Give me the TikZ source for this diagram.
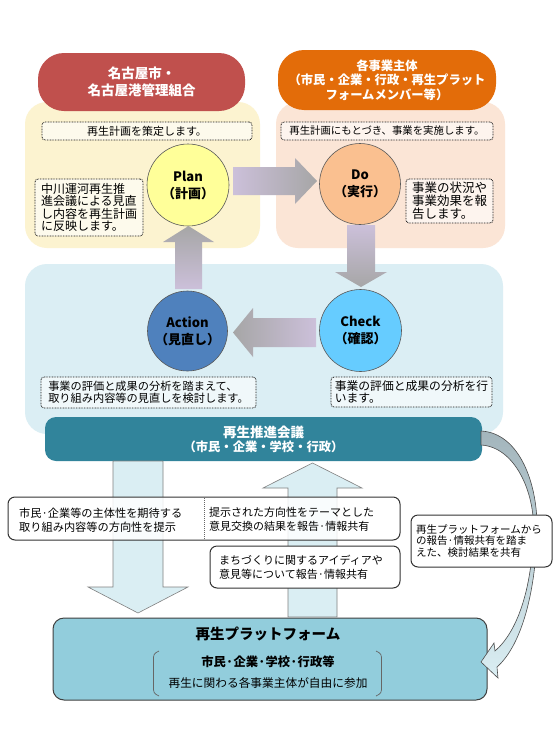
\documentclass[tikz,border=0pt]{standalone}
\usepackage{fontspec}
\setmainfont{Noto Sans CJK JP}
\usetikzlibrary{shapes.geometric}
\definecolor{hdrred}{HTML}{C0504D}
\definecolor{hdrorg}{HTML}{E36C09}
\definecolor{pylw}{HTML}{FCF3D0}
\definecolor{ppnk}{HTML}{FBE5D6}
\definecolor{pblu}{HTML}{DBEEF4}
\definecolor{cplan}{HTML}{FFFF99}
\definecolor{cdo}{HTML}{FAC090}
\definecolor{cact}{HTML}{4F81BD}
\definecolor{cchk}{HTML}{66CCFF}
\definecolor{council}{HTML}{31849B}
\definecolor{platf}{HTML}{92CDDC}
\definecolor{lav}{HTML}{CCC0DA}
\definecolor{gry}{HTML}{A6A6A6}
\definecolor{arrblue}{HTML}{DAEEF3}
\definecolor{cgray}{HTML}{A3B5BC}
\tikzset{
  panel/.style={rectangle, rounded corners=22pt, inner sep=0pt, outer sep=0pt},
  hdr/.style={rectangle, rounded corners=26pt, inner sep=0pt, text=white, align=center},
  dbox/.style={rectangle, draw=black!90, line width=0.8pt, dash pattern=on 0.8pt off 0.8pt,
     rounded corners=3pt, fill=white, fill opacity=0.6, text opacity=1, inner sep=0pt, align=left},
  pdca/.style={circle, draw=black!65, line width=0.6pt, inner sep=0pt, align=center,
     font=\fontsize{13}{17}\selectfont\bfseries},
  sbox/.style={rectangle, draw=black!80, line width=1pt, rounded corners=7pt, fill=white, inner sep=0pt},
  bigarr/.style={fill=arrblue, draw=black!50, line width=0.6pt},
  txt/.style={inner sep=0pt, align=left},
}
\begin{document}
\begin{tikzpicture}[x=1pt,y=-1pt]
\useasboundingbox (0,0) rectangle (556,739);
\fill[white] (0,0) rectangle (556,739);

% panels
\node[panel, fill=pylw, minimum width=235, minimum height=146] (yp) at (142.5,175) {};
\node[panel, fill=ppnk, minimum width=229, minimum height=146] (pp) at (390.5,175) {};
\node[panel, fill=pblu, minimum width=478, minimum height=170] (bp) at (264,349) {};

% headers
\node[hdr, fill=hdrred, minimum width=207, minimum height=58,
  font=\fontsize{13.5}{16.5}\selectfont\bfseries] (hr) at (141.5,82) {名古屋市・\\名古屋港管理組合};
\node[hdr, fill=hdrorg, minimum width=218, minimum height=60,
  font=\fontsize{12.3}{14.5}\selectfont\bfseries] (ho) at (387,80) {各事業主体\\（市民・企業・行政・再生プラット\\フォームメンバー等）};

% dotted boxes
\node[dbox, minimum width=210, minimum height=18, font=\fontsize{11}{12}\selectfont] (d1) at (147,131) {再生計画を策定します。};
\node[dbox, minimum width=212, minimum height=18, font=\fontsize{10.4}{12}\selectfont] (d2) at (387,131) {再生計画にもとづき、事業を実施します。};
\node[dbox, minimum width=108, minimum height=57, font=\fontsize{12}{12.5}\selectfont] (d3) at (89,207.5) {中川運河再生推\\進会議による見直\\し内容を再生計画\\に反映します。};
\node[dbox, minimum width=87, minimum height=44, font=\fontsize{12.5}{13}\selectfont] (d4) at (449.5,201) {事業の状況や\\事業効果を報\\告します。};
\node[dbox, minimum width=215, minimum height=31, font=\fontsize{11.2}{12}\selectfont] (d5) at (148.5,392.5) {事業の評価と成果の分析を踏まえて、\\取り組み内容等の見直しを検討します。};
\node[dbox, minimum width=161, minimum height=30, font=\fontsize{11.8}{12}\selectfont] (d6) at (411.5,392) {事業の評価と成果の分析を行\\います。\hspace*{6.5em}};

% PDCA circles
\node[pdca, fill=cplan, minimum size=82] (plan) at (188,185) {Plan\\（計画）};
\node[pdca, fill=cdo, minimum size=81] (do) at (360,184) {Do\\（実行）};
\node[pdca, fill=cact, minimum size=80] (act) at (187.5,331) {Action\\（見直し）};
\node[pdca, fill=cchk, minimum size=82] (chk) at (360.5,330.5) {Check\\（確認）};

% block arrows between PDCA
\path[left color=lav, right color=gry] (233,167) -- (295,167) -- (295,158) -- (317,181)
   -- (295,204) -- (295,195) -- (233,195) -- cycle;
\path[top color=lav, bottom color=gry] (347,225) -- (375,225) -- (375,272) -- (387,272)
   -- (361,287) -- (335,272) -- (347,272) -- cycle;
\path[top color=gry, bottom color=lav] (175,289) -- (175,242) -- (163,242) -- (188.5,226)
   -- (214,242) -- (202,242) -- (202,289) -- cycle;
\path[left color=gry, right color=lav] (316,318) -- (253,318) -- (253,308) -- (233,332.5)
   -- (253,357) -- (253,347) -- (316,347) -- cycle;

% council
\node[rectangle, rounded corners=11pt, fill=council, minimum width=437, minimum height=44,
  inner sep=0pt] (cn) at (263.5,439) {};
\node[txt, text=white, font=\fontsize{13.5}{15}\selectfont\bfseries] (cnt1) at (263.5,432) {再生推進会議};
\node[txt, text=white, font=\fontsize{12.3}{15}\selectfont\bfseries] (cnt2) at (263.5,447) {（市民・企業・学校・行政）};

% platform
\node[rectangle, rounded corners=11pt, fill=platf, draw=black!75, line width=1pt,
  minimum width=434, minimum height=82, inner sep=0pt] (pf) at (270,659) {};
\node[txt, font=\fontsize{14.5}{16}\selectfont\bfseries] (pft1) at (268,634) {再生プラットフォーム};
\node[txt, font=\fontsize{12.3}{14}\selectfont\bfseries] (pft2) at (268,662) {市民·企業·学校·行政等};
\node[txt, font=\fontsize{11.7}{14}\selectfont] (pft3) at (268,683) {再生に関わる各事業主体が自由に参加};
\draw[black!60, line width=0.7pt, rounded corners=3pt] (159,651) -- (153.5,654) -- (153.5,693) -- (159,696);
\draw[black!60, line width=0.7pt, rounded corners=3pt] (376,651) -- (381.5,654) -- (381.5,693) -- (376,696);

% big light-blue arrows
\draw[bigarr] (113,461) -- (163,461) -- (163,587) -- (188,587) -- (138,613) -- (88,587)
   -- (113,587) -- cycle;
\draw[bigarr] (288,617) -- (288,488) -- (263,488) -- (312.5,463) -- (362,488) -- (337,488)
   -- (337,617) -- cycle;

% curved arrow council -> platform
\path[draw=black!70, line width=0.6pt, top color=cgray, bottom color=arrblue]
  (481,431) .. controls (520,433) and (538,485) .. (537,530)
  .. controls (536,590) and (522,645) .. (497,667)
  -- (498,678) -- (481,662) -- (494,643) -- (495,651)
  .. controls (517,632) and (532,590) .. (533.5,530)
  .. controls (534.5,492) and (515,447) .. (481,445) -- cycle;

% bottom text boxes
\node[sbox, minimum width=392, minimum height=43, fill opacity=0.85, text opacity=1] (b1) at (204,518.5) {};
\draw[black!60, line width=0.7pt, dash pattern=on 1pt off 1pt] (204,498) -- (204,539.5);
\node[txt, anchor=west, font=\fontsize{11.2}{14}\selectfont] (b1l) at (19,520) {市民·企業等の主体性を期待する\\取り組み内容等の方向性を提示};
\node[txt, anchor=west, font=\fontsize{11}{14}\selectfont] (b1r) at (209,519) {提示された方向性をテーマとした\\意見交換の結果を報告·情報共有};
\node[sbox, minimum width=190, minimum height=42] (b2) at (305,567) {};
\node[txt, anchor=west, font=\fontsize{11}{14}\selectfont] (b2t) at (219,567) {まちづくりに関するアイディアや\\意見等について報告·情報共有};
\node[sbox, minimum width=141, minimum height=52] (b3) at (481.5,541) {};
\node[txt, anchor=west, font=\fontsize{10.5}{11.5}\selectfont] (b3t) at (416,541) {再生プラットフォームから\\の報告·情報共有を踏ま\\えた、検討結果を共有};
\end{tikzpicture}
\end{document}
